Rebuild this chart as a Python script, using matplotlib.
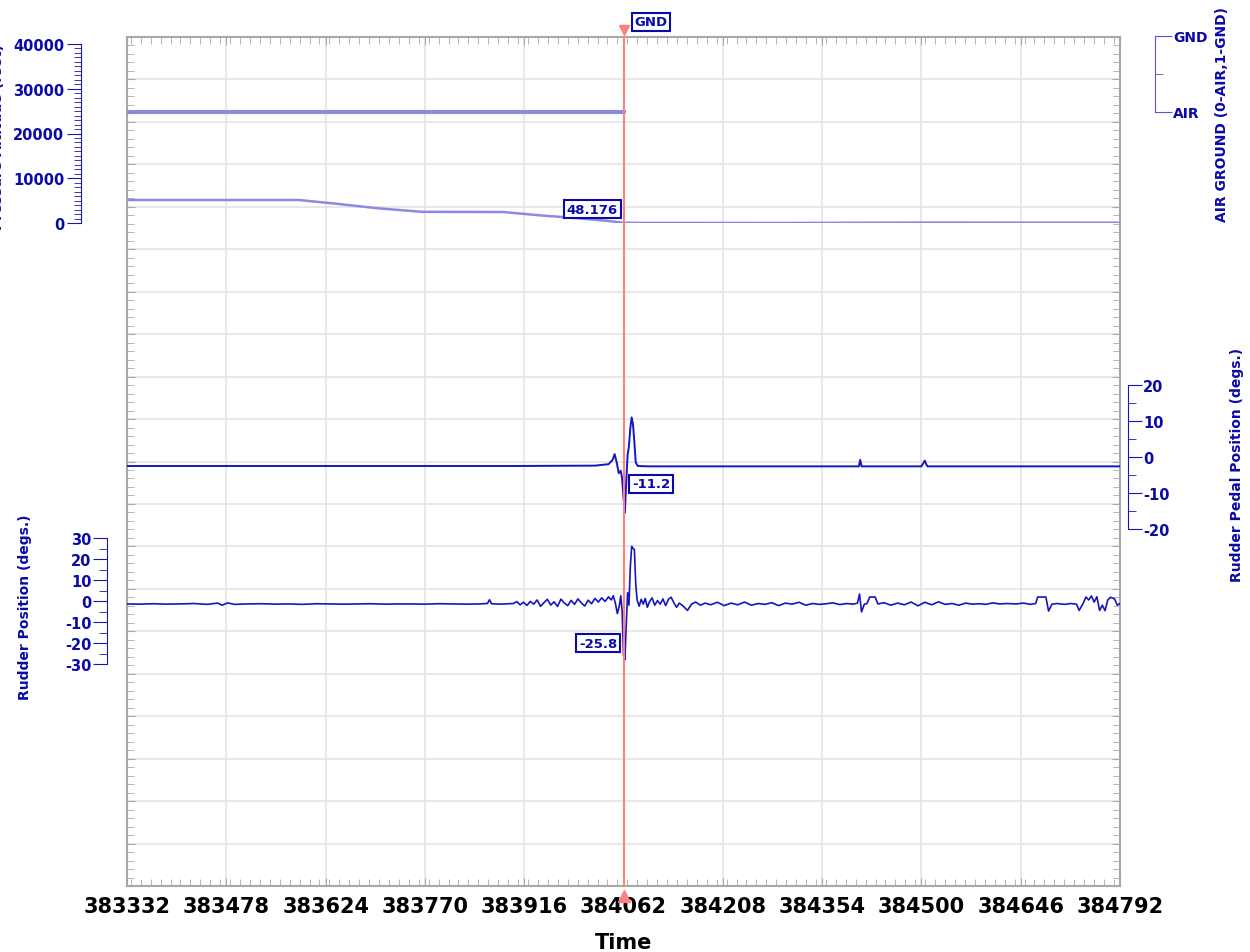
import numpy as np
import matplotlib.pyplot as plt
from matplotlib.patches import Rectangle
from matplotlib.ticker import MultipleLocator, FixedLocator

plt.rcParams['axes.unicode_minus'] = False

# figure geometry (pixels)
W, H = 1250, 953
PX0, PX1, PY0, PY1 = 127, 1120, 38, 887

T0, T1 = 383332, 384792
CURSOR_T = 384062
XTICKS = [383332, 383478, 383624, 383770, 383916, 384062,
          384208, 384354, 384500, 384646, 384792]

# altitude (feet)
ALT_T = [383332, 383585, 383640, 383700, 383765, 383830, 383885,
         383940, 384000, 384040, 384062, 384090, 384300, 384500, 384792]
ALT_V = [5140, 5140, 4300, 3300, 2500, 2480, 2450,
         1700, 1000, 450, 48, 20, 10, 90, 60]

# air / ground discrete
AG_T = [383332, 384062, 384062, 384792]
AG_V = [0, 0, 1, 1]

# rudder pedal position (degs)
PEDAL_T = [383332, 383600, 383900, 384020, 384040, 384046, 384049, 384052,
           384055, 384058, 384060, 384062, 384064, 384066, 384068, 384070,
           384072, 384074, 384076, 384078, 384080, 384083, 384100, 384300,
           384408, 384410, 384412, 384500, 384505, 384507, 384509, 384792]
PEDAL_V = [-2.5, -2.5, -2.5, -2.4, -2.0, -0.8, 0.8, -1.5,
           -4.5, -3.8, -6.0, -11.2, -15.5, -7.0, 0.5, 3.0,
           8.0, 11.0, 9.0, 4.0, -1.5, -2.5, -2.6, -2.6,
           -2.6, -0.8, -2.6, -2.6, -1.0, -2.0, -2.6, -2.6]

# rudder position (degs)
RUD_T = [383332, 383350, 383370, 383390, 383410, 383430, 383450, 383465,
         383472, 383480, 383490, 383510, 383530, 383550, 383570, 383590,
         383610, 383630, 383650, 383670, 383690, 383710, 383730, 383750,
         383770, 383790, 383810, 383830, 383850, 383862, 383865, 383868,
         383880, 383900, 383905, 383910, 383915, 383920, 383925, 383930,
         383935, 383940, 383945, 383950, 383955, 383960, 383965, 383970,
         383975, 383980, 383985, 383990, 383995, 384000, 384005, 384010,
         384015, 384020, 384025, 384030, 384035, 384040, 384044, 384047,
         384050, 384053, 384056, 384058, 384060, 384062, 384064, 384066,
         384068, 384070, 384072, 384074, 384076, 384078, 384080, 384082,
         384085, 384088, 384091, 384094, 384097, 384100, 384104, 384108,
         384112, 384116, 384120, 384124, 384128, 384132, 384136, 384140,
         384144, 384150, 384156, 384162, 384168, 384175, 384182, 384190,
         384200, 384210, 384220, 384230, 384240, 384250, 384260, 384270,
         384280, 384290, 384300, 384310, 384320, 384330, 384340, 384350,
         384360, 384370, 384380, 384390, 384400, 384406, 384409, 384412,
         384416, 384420, 384424, 384432, 384436, 384445, 384455, 384465,
         384475, 384485, 384495, 384505, 384515, 384525, 384535, 384545,
         384555, 384565, 384575, 384585, 384595, 384605, 384615, 384625,
         384640, 384650, 384660, 384668, 384671, 384683, 384687, 384692,
         384700, 384710, 384720, 384728, 384732, 384738, 384742, 384746,
         384750, 384754, 384758, 384762, 384766, 384770, 384774, 384778,
         384784, 384788, 384792]
RUD_V = [-1.4, -1.5, -1.3, -1.5, -1.4, -1.2, -1.6, -1.0,
         -2.0, -0.9, -1.6, -1.4, -1.3, -1.5, -1.4, -1.6,
         -1.3, -1.4, -1.5, -1.4, -1.3, -1.5, -1.4, -1.4,
         -1.5, -1.3, -1.4, -1.5, -1.4, -1.2, 0.6, -1.3,
         -1.5, -1.2, -0.3, -1.8, -0.6, -2.1, -0.2, -1.5,
         0.5, -2.5, -0.8, 0.8, -1.9, -0.4, -2.6, 0.9,
         -1.0, -2.2, 0.3, -1.6, 1.0, -0.9, -2.4, 0.4,
         -1.3, 1.2, -0.5, 1.5, -0.2, 2.0, 0.5, 2.5,
         -1.0, -6.0, -2.0, 2.5, -5.0, -25.8, -28.0, -12.0,
         4.0, -2.0, 16.0, 26.0, 25.0, 24.5, 8.0, 0.5,
         -2.5, 0.8, -1.5, 1.2, -3.0, -0.5, 1.5, -2.0,
         0.2, -1.5, 1.0, -2.2, 0.8, 1.8, -0.8, -3.0,
         -1.0, -2.5, -4.5, -1.5, -0.5, -2.0, -1.0, -1.8,
         -0.6, -2.2, -1.0, -1.8, -0.5, -2.0, -1.2, -1.6,
         -0.8, -2.2, -1.0, -1.5, -0.6, -2.0, -1.2, -1.6,
         -1.3, -0.9, -1.7, -1.2, -1.5, -1.0, 3.3, -5.2,
         -1.6, -1.2, 1.9, 1.9, -1.4, -0.8, -2.0, -1.0,
         -1.8, -0.5, -2.3, -0.6, -1.8, -0.4, -1.6, -1.2,
         -2.0, -1.0, -1.5, -1.3, -1.6, -0.9, -1.4, -1.2,
         -1.4, -1.0, -1.6, -1.2, 1.9, 1.9, -4.8, -1.5,
         -1.2, -1.6, -1.2, -1.5, -4.5, -1.0, 1.9, 0.5,
         2.4, -0.5, 2.0, -4.5, -2.0, -4.6, 0.5, 1.8,
         1.0, -2.0, -1.2]

BLUE = '#1616c0'
LIGHT = '#8a8ae0'
TXT = '#0a0aa8'
CURSOR = '#ff8080'


def rect(x0, y0, x1, y1):
    return [x0 / W, 1 - y1 / H, (x1 - x0) / W, (y1 - y0) / H]


def overlay(y0, y1):
    a = fig.add_axes(rect(PX0, y0, PX1, y1))
    a.patch.set_visible(False)
    for s in a.spines.values():
        s.set_visible(False)
    a.set_xlim(T0, T1)
    a.xaxis.set_visible(False)
    return a


def bold_ticks(a):
    for lb in a.get_yticklabels():
        lb.set_fontweight('bold')


fig = plt.figure(figsize=(W / 100, H / 100), dpi=100)

# main frame with grid
ax = fig.add_axes(rect(PX0, PY0, PX1, PY1))
ax.set_xlim(T0, T1)
ax.set_ylim(0, 20)
ax.xaxis.set_major_locator(FixedLocator(XTICKS))
ax.xaxis.set_minor_locator(MultipleLocator(14.6))
ax.yaxis.set_major_locator(MultipleLocator(1))
ax.yaxis.set_minor_locator(MultipleLocator(0.2))
ax.set_yticklabels([])
ax.set_xticklabels([str(t) for t in XTICKS], fontsize=15, fontweight='bold')
ax.grid(True, which='major', color='#e4e4e4', linewidth=1.2)
ax.tick_params(which='both', direction='in', top=True, right=True,
               color='#a8a8a8', pad=7)
ax.tick_params(which='major', length=6)
ax.tick_params(which='minor', length=5)
for s in ax.spines.values():
    s.set_color('#a8a8a8')
    s.set_linewidth(1.5)
ax.set_xlabel('Time', fontsize=15, fontweight='bold', labelpad=12)

# altitude axis (left, top)
axa = overlay(45, 224)
axa.set_ylim(0, 40000)
axa.plot(ALT_T, ALT_V, color=LIGHT, linewidth=1.8)
axa.spines['left'].set_visible(True)
axa.spines['left'].set_position(('axes', (81 - PX0) / (PX1 - PX0)))
axa.spines['left'].set_color(BLUE)
axa.yaxis.set_major_locator(MultipleLocator(10000))
axa.yaxis.set_minor_locator(MultipleLocator(1000))
axa.tick_params(axis='y', which='both', colors=BLUE, labelcolor=TXT,
                labelsize=10.5, pad=2)
axa.tick_params(axis='y', which='major', length=10)
axa.tick_params(axis='y', which='minor', length=5)
bold_ticks(axa)
fig.text(5 / W, 1 - 137 / H, 'Pressure Altitude (feet)', rotation=90,
         ha='right', va='center', color=TXT, fontsize=10, fontweight='bold')

# air/ground axis (right, top)
axg = overlay(37, 113)
axg.set_ylim(0, 1)
ln, = axg.plot(AG_T, AG_V, color=LIGHT, linewidth=3, solid_capstyle='butt')
# the GND level runs under the frame's top edge and the jump under the cursor
ln.set_clip_path(Rectangle((-0.1, -0.5), 1.2, 0.53, transform=axg.transAxes))
axg.spines['right'].set_visible(True)
axg.spines['right'].set_position(('axes', (1155 - PX0) / (PX1 - PX0)))
axg.spines['right'].set_color('#5555cc')
axg.yaxis.tick_right()
axg.yaxis.set_major_locator(FixedLocator([0, 1]))
axg.yaxis.set_minor_locator(FixedLocator([0.5]))
axg.set_yticklabels(['AIR', 'GND'], fontsize=10, fontweight='bold', color=TXT)
axg.tick_params(axis='y', which='both', colors='#5555cc', labelcolor=TXT, pad=1)
axg.tick_params(axis='y', which='major', length=12)
axg.tick_params(axis='y', which='minor', length=6)
fig.text(1222 / W, 1 - 115 / H, 'AIR GROUND (0-AIR,1-GND)', rotation=90,
         ha='center', va='center', color=TXT, fontsize=10, fontweight='bold')

# rudder pedal axis (right, middle)
axp = overlay(386, 530)
axp.set_ylim(-20, 20)
axp.plot(PEDAL_T, PEDAL_V, color=BLUE, linewidth=1.4)
axp.spines['right'].set_visible(True)
axp.spines['right'].set_position(('axes', (1128 - PX0) / (PX1 - PX0)))
axp.spines['right'].set_color(BLUE)
axp.yaxis.tick_right()
axp.yaxis.set_major_locator(MultipleLocator(10))
axp.yaxis.set_minor_locator(MultipleLocator(5))
axp.tick_params(axis='y', which='both', colors=BLUE, labelcolor=TXT,
                labelsize=10.5, pad=1)
axp.tick_params(axis='y', which='major', length=10)
axp.tick_params(axis='y', which='minor', length=6)
bold_ticks(axp)
fig.text(1237 / W, 1 - 465 / H, 'Rudder Pedal Position (degs.)', rotation=90,
         ha='center', va='center', color=TXT, fontsize=10, fontweight='bold')

# rudder position axis (left, lower)
axr = overlay(539, 665)
axr.set_ylim(-30, 30)
axr.plot(RUD_T, RUD_V, color=BLUE, linewidth=1.2)
axr.spines['left'].set_visible(True)
axr.spines['left'].set_position(('axes', (107 - PX0) / (PX1 - PX0)))
axr.spines['left'].set_color(BLUE)
axr.yaxis.set_major_locator(MultipleLocator(10))
axr.yaxis.set_minor_locator(MultipleLocator(5))
axr.tick_params(axis='y', which='both', colors=BLUE, labelcolor=TXT,
                labelsize=10.5, pad=1)
axr.tick_params(axis='y', which='major', length=10)
axr.tick_params(axis='y', which='minor', length=6)
bold_ticks(axr)
fig.text(25 / W, 1 - 607 / H, 'Rudder Position (degs.)', rotation=90,
         ha='center', va='center', color=TXT, fontsize=10, fontweight='bold')

# cursor on top of every trace
axc = overlay(PY0, PY1)
axc.set_ylim(0, 1)
axc.yaxis.set_visible(False)
axc.axvline(CURSOR_T, color=CURSOR, linewidth=1.5)
axc.plot([CURSOR_T], [1.008], marker='v', color=CURSOR, markersize=7, clip_on=False)
axc.plot([CURSOR_T], [-0.012], marker='^', color=CURSOR, markersize=8, clip_on=False)

box = dict(boxstyle='square,pad=0.2', facecolor='white', edgecolor=TXT, linewidth=1.5)
lbl = dict(color=TXT, fontsize=9.5, fontweight='bold', bbox=box, zorder=10)
fig.text(651 / W, 1 - 23 / H, 'GND', ha='center', va='center', **lbl)
fig.text(618 / W, 1 - 210 / H, '48.176', ha='right', va='center', **lbl)
fig.text(632 / W, 1 - 485 / H, '-11.2', ha='left', va='center', **lbl)
fig.text(617 / W, 1 - 644 / H, '-25.8', ha='right', va='center', **lbl)

plt.savefig('out.png', dpi=100)
